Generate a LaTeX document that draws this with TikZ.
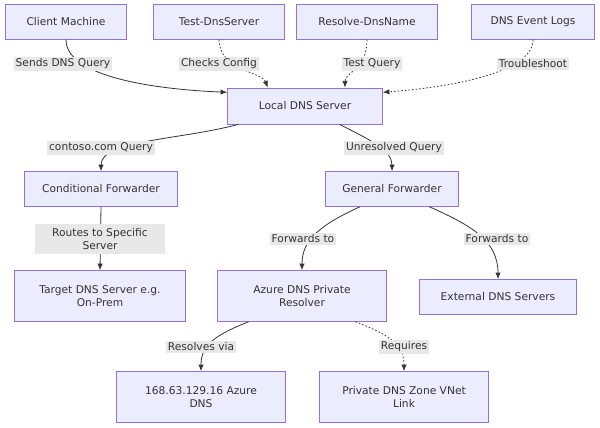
\documentclass[tikz,border=0pt]{standalone}
\usepackage{fontspec}
\setmainfont{DejaVu Sans}
\usetikzlibrary{arrows.meta,positioning}
\definecolor{boxfill}{HTML}{ECECFF}
\definecolor{boxline}{HTML}{9370DB}
\definecolor{lblfill}{HTML}{E8E8E8}
\definecolor{edgecol}{HTML}{333333}
\tikzset{
  box/.style={draw=boxline, fill=boxfill, line width=0.6pt, align=center,
    font=\fontsize{8}{10}\selectfont, text=edgecol, minimum height=26pt},
  lbl/.style={fill=lblfill, inner sep=1.5pt, font=\fontsize{8}{10}\selectfont, text=edgecol, align=center},
  edge/.style={draw=edgecol, line width=0.6pt, -{Latex[length=5pt,width=4pt]}},
  dot/.style={edge, dash pattern=on 1.2pt off 1.5pt}
}
\begin{document}
\begin{tikzpicture}[x=0.75pt,y=-0.75pt]
    \useasboundingbox (0,0) rectangle (600,428);

    % top row
    \node[box, minimum width=91pt] (client) at (66,22) {Client Machine};
    \node[box, minimum width=98pt] (test) at (219,22) {Test-DnsServer};
    \node[box, minimum width=106pt] (resolve) at (367,22) {Resolve-DnsName};
    \node[box, minimum width=92pt] (logs) at (533,22) {DNS Event Logs};
    \node[box, minimum width=116pt, minimum height=27pt] (local) at (305,106) {Local DNS Server};

    % forwarders
    \node[box, minimum width=115pt] (cond) at (101,189) {Conditional Forwarder};
    \node[box, minimum width=100pt] (general) at (392,189) {General Forwarder};
    \node[box, minimum width=128pt, minimum height=38pt] (target) at (100,296) {Target DNS Server e.g.\\On-Prem};
    \node[box, minimum width=127pt, minimum height=38pt] (azure) at (302,296) {Azure DNS Private\\Resolver};
    \node[box, minimum width=118pt] (external) at (498,297) {External DNS Servers};
    \node[box, minimum width=127pt, minimum height=38pt] (azdns) at (201,397) {168.63.129.16 Azure\\DNS};
    \node[box, minimum width=127pt, minimum height=38pt] (zone) at (404,397) {Private DNS Zone VNet\\Link};

    % connectors
    \draw[edge] (client.south) .. controls (66,80) and (170,90) .. (local.170);
    \draw[dot] (test.south) .. controls (219,70) and (262,72) .. ([xshift=-28pt]local.north);
    \draw[dot] (resolve.south) .. controls (367,70) and (345,72) .. ([xshift=30pt]local.north);
    \draw[dot] (logs.south) .. controls (533,75) and (440,88) .. (local.10);
    \draw[edge] ([xshift=-50pt]local.south) .. controls (180,140) and (101,140) .. (cond.north);
    \draw[edge] ([xshift=26pt]local.south) .. controls (370,140) and (392,150) .. (general.north);
    \draw[edge] (cond.south) -- (target.north);
    \draw[edge] ([xshift=-24pt]general.south) .. controls (320,225) and (302,240) .. (azure.north);
    \draw[edge] ([xshift=28pt]general.south) .. controls (470,225) and (498,240) .. (external.north);
    \draw[edge] ([xshift=-40pt]azure.south) .. controls (215,335) and (201,345) .. (azdns.north);
    \draw[dot] ([xshift=40pt]azure.south) .. controls (390,335) and (404,345) .. (zone.north);

    % edge labels
    \node[lbl] (l1) at (63,64) {Sends DNS Query};
    \node[lbl] (l2) at (219,64) {Checks Config};
    \node[lbl] (l3) at (372,64) {Test Query};
    \node[lbl] (l4) at (533,64) {Troubleshoot};
    \node[lbl] (l5) at (101,148) {contoso.com Query};
    \node[lbl] (l6) at (394,148) {Unresolved Query};
    \node[lbl, minimum width=97pt, minimum height=23pt] (l7) at (100,239) {Routes to Specific\\Server};
    \node[lbl] (l8) at (303,239) {Forwards to};
    \node[lbl] (l9) at (497,239) {Forwards to};
    \node[lbl] (l10) at (201,347) {Resolves via};
    \node[lbl] (l11) at (404,347) {Requires};
\end{tikzpicture}
\end{document}
